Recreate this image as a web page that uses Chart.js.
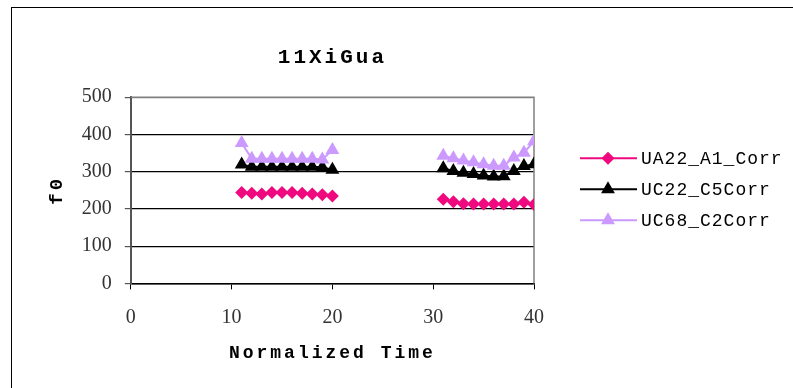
<!DOCTYPE html>
<html>
<head>
<meta charset="utf-8">
<script src="https://cdn.jsdelivr.net/npm/chart.js@4/dist/chart.umd.min.js"></script>
<style>
  html, body { margin: 0; padding: 0; background: #fff; }
  #wrap { width: 793px; height: 388px; position: relative; }
</style>
</head>
<body>
<div id="wrap"><canvas id="chartF0"></canvas></div>
<script>
// === Datos ===
const tiempo = [11, 12, 13, 14, 15, 16, 17, 18, 19, 20, 31, 32, 33, 34, 35, 36, 37, 38, 39, 40];
const ua22A1 = [244, 242, 240, 244, 244, 244, 242, 240, 238, 235, 226, 219, 214, 213, 213, 213, 213, 213, 218, 212];
const uc22C5 = [319, 313, 313, 313, 313, 313, 313, 313, 312, 305, 309, 302, 297, 294, 290, 287, 288, 302, 315, 320];
const uc68C2 = [377, 335, 335, 335, 335, 335, 335, 335, 333, 358, 343, 336, 330, 325, 320, 316, 316, 338, 351, 382];
const nombres = ["UA22_A1_Corr", "UC22_C5Corr", "UC68_C2Corr"];
const yTicks = [0, 100, 200, 300, 400, 500];
const xTicks = [0, 10, 20, 30, 40];

const puntos = (vals) => tiempo.map((t, i) => ({ x: t, y: vals[i] }));
// no unir los dos bloques (20 -> 31)
const cortar = (ctx) => (ctx.p1.parsed.x - ctx.p0.parsed.x > 1 ? "transparent" : undefined);

function conEspaciado(obj, metodo, sp) {
  const orig = obj[metodo];
  obj[metodo] = function (...args) {
    const c = this.ctx;
    const prev = c.letterSpacing;
    c.letterSpacing = sp;
    const r = orig.apply(this, args);
    c.letterSpacing = prev;
    return r;
  };
}

function marcador(c, estilo, x, y, r, color) {
  c.save();
  c.fillStyle = color;
  c.beginPath();
  if (estilo === "rectRot") {
    c.moveTo(x, y - r); c.lineTo(x + r, y); c.lineTo(x, y + r); c.lineTo(x - r, y);
  } else {
    c.moveTo(x, y - r);
    c.lineTo(x + r * Math.sin(2 * Math.PI / 3), y - r * Math.cos(2 * Math.PI / 3));
    c.lineTo(x - r * Math.sin(2 * Math.PI / 3), y - r * Math.cos(2 * Math.PI / 3));
  }
  c.closePath();
  c.fill();
  c.restore();
}

const marco = {
  id: "marco",
  afterInit(chart) {
    conEspaciado(chart.titleBlock, "draw", "3px");
  },
  beforeDraw(chart) {
    const c = chart.ctx;
    for (const s of [chart.scales.x, chart.scales.y]) {
      if (!s._esp) { conEspaciado(s, "drawTitle", "3px"); s._esp = true; }
    }
    c.save();
    c.strokeStyle = "#000";
    c.lineWidth = 1;
    c.strokeRect(11.5, 7.5, 1000, 1000);
    c.restore();
  },
  beforeDatasetsDraw(chart) {
    const a = chart.chartArea;
    const c = chart.ctx;
    c.save();
    c.strokeStyle = "#808080";
    c.lineWidth = 1.5;
    c.beginPath();
    c.moveTo(a.left, a.top); c.lineTo(a.right, a.top); c.lineTo(a.right, a.bottom);
    c.stroke();
    c.restore();
  },
  afterDraw(chart) {
    const a = chart.chartArea;
    const c = chart.ctx;
    const x0 = a.right + 46;
    const yc = (a.top + a.bottom) / 2 - 1;
    c.save();
    c.font = "18px 'Liberation Mono', monospace";
    c.letterSpacing = "1px";
    c.textBaseline = "middle";
    chart.data.datasets.forEach((ds, i) => {
      const y = yc + (i - 1) * 31;
      c.strokeStyle = ds.borderColor;
      c.lineWidth = 2;
      c.beginPath();
      c.moveTo(x0, y); c.lineTo(x0 + 57, y);
      c.stroke();
      marcador(c, ds.pointStyle, x0 + 28, y, ds.pointRadius, ds.backgroundColor);
      c.fillStyle = "#000";
      c.fillText(ds.label, x0 + 61, y + 1);
    });
    c.restore();
  },
};

const ctx1 = document.getElementById("chartF0");
new Chart(ctx1, {
  type: "line",
  data: {
    datasets: [
      {
        label: nombres[0],
        data: puntos(ua22A1),
        borderColor: "#F0087F",
        backgroundColor: "#F0087F",
        borderWidth: 2,
        pointStyle: "rectRot",
        pointRadius: 6.5,
        pointBorderWidth: 0,
        segment: { borderColor: cortar },
        order: 2,
      },
      {
        label: nombres[1],
        data: puntos(uc22C5),
        borderColor: "#000000",
        backgroundColor: "#000000",
        borderWidth: 2,
        pointStyle: "triangle",
        pointRadius: 8,
        pointBorderWidth: 0,
        segment: { borderColor: cortar },
        order: 1,
      },
      {
        label: nombres[2],
        data: puntos(uc68C2),
        borderColor: "#CC99FF",
        backgroundColor: "#CC99FF",
        borderWidth: 2,
        pointStyle: "triangle",
        pointRadius: 8,
        pointBorderWidth: 0,
        segment: { borderColor: cortar },
        order: 0,
      },
    ],
  },
  options: {
    responsive: true,
    maintainAspectRatio: false,
    animation: false,
    layout: { padding: { left: 46, right: 259, top: 4, bottom: 24 } },
    plugins: {
      legend: { display: false },
      tooltip: { enabled: false },
      title: {
        display: true,
        text: "11XiGua",
        fullSize: false,
        color: "#000",
        font: { family: "'Liberation Mono', monospace", size: 21, weight: "bold" },
        padding: { top: 41, bottom: 27 },
      },
    },
    scales: {
      x: {
        type: "linear",
        min: 0,
        max: 40,
        afterBuildTicks: (s) => { s.ticks = xTicks.map((v) => ({ value: v })); },
        grid: { display: true, drawOnChartArea: false, tickLength: 6, color: "#000" },
        border: { color: "#000", width: 1.5 },
        ticks: {
          color: "#333",
          padding: 16,
          font: { family: "'Liberation Serif', serif", size: 20 },
        },
        title: {
          display: true,
          text: "Normalized Time",
          color: "#000",
          font: { family: "'Liberation Mono', monospace", size: 18, weight: "bold" },
          padding: { top: -3, bottom: 0 },
        },
      },
      y: {
        min: 0,
        max: 500,
        afterBuildTicks: (s) => { s.ticks = yTicks.map((v) => ({ value: v })); },
        grid: {
          color: (c) => (c.tick && c.tick.value === 500 ? "#808080" : "#000"),
          lineWidth: 1.2,
          tickLength: 6,
          tickColor: "#555",
        },
        border: { color: "#555", width: 2 },
        ticks: {
          color: "#333",
          padding: 13,
          font: { family: "'Liberation Serif', serif", size: 20 },
        },
        title: {
          display: true,
          text: "f0",
          color: "#000",
          font: { family: "'Liberation Mono', monospace", size: 19, weight: "bold" },
          padding: { top: 0, bottom: 0 },
        },
      },
    },
  },
  plugins: [marco],
});
</script>
</body>
</html>
